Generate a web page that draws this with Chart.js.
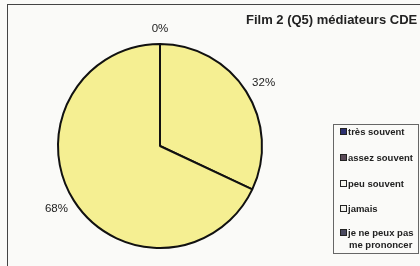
<!DOCTYPE html>
<html lang="fr">
<head>
    <meta charset="UTF-8">
    <title>Film 2 (Q5) médiateurs CDE</title>
    <script src="https://cdn.jsdelivr.net/npm/chart.js"></script>
    <style>
        body {
            margin: 0;
            width: 420px;
            height: 266px;
            overflow: hidden;
            background: #fafaf8;
            font-family: 'Liberation Sans', Arial, sans-serif;
        }
        .frame {
            position: absolute;
            left: 7px;
            top: 4px;
            width: 440px;
            height: 300px;
            border-left: 1.5px solid #444;
            border-top: 1.5px solid #444;
        }
        .chart-wrapper {
            position: absolute;
            left: 0;
            top: 0;
            width: 420px;
            height: 266px;
        }
        .title {
            position: absolute;
            left: 246px;
            top: 12px;
            font-size: 13px;
            font-weight: bold;
            color: #222;
            white-space: nowrap;
        }
        .legend {
            position: absolute;
            left: 333px;
            top: 124px;
            width: 84px;
            height: 128px;
            border: 1px solid #666;
            font-size: 9.5px;
            font-weight: bold;
            color: #222;
        }
        .legend-item {
            position: absolute;
            left: 6px;
            line-height: 12px;
            white-space: nowrap;
        }
        .legend-box {
            display: inline-block;
            width: 5px;
            height: 5px;
            border: 1px solid #222;
            margin-right: 1px;
            vertical-align: 0px;
        }
    </style>
</head>
<body>
    <div class="frame"></div>
    <div class="chart-wrapper">
        <canvas id="pieChart"></canvas>
    </div>
    <div class="title">Film 2 (Q5) médiateurs CDE</div>
    <div class="legend" id="legend"></div>

    <script>
        const categories = ['très souvent', 'assez souvent', 'peu souvent', 'jamais', 'je ne peux pas\nme prononcer'];
        const percentages = [0, 0, 32, 68, 0];
        const sliceColors = ['#f5ef92', '#f5ef92', '#f5ef92', '#f5ef92', '#f5ef92'];
        const legendColors = ['#2c3070', '#5a4a58', '#f6f6f0', '#f2f2ee', '#4a4a60'];

        // legend (HTML, boxed like the original)
        const legendTops = [1, 27, 53, 78, 102];
        const legend = document.getElementById('legend');
        categories.forEach(function(name, i) {
            const item = document.createElement('div');
            item.className = 'legend-item';
            item.style.top = legendTops[i] + 'px';
            const lines = name.split('\n');
            item.innerHTML = '<span class="legend-box" style="background:' + legendColors[i] + '"></span>' +
                lines[0] + (lines[1] ? '<br><span style="padding-left:9px">' + lines[1] + '</span>' : '');
            legend.appendChild(item);
        });

        // percentage labels outside the slices
        const outsideLabels = {
            id: 'outsideLabels',
            afterDatasetsDraw(chart) {
                const ctx = chart.ctx;
                const meta = chart.getDatasetMeta(0);
                const drawn = {};
                ctx.save();
                ctx.font = '11.5px "Liberation Sans", Arial, sans-serif';
                ctx.fillStyle = '#222';
                ctx.textAlign = 'center';
                ctx.textBaseline = 'middle';
                meta.data.forEach(function(arc, i) {
                    const text = percentages[i] + '%';
                    const mid = (arc.startAngle + arc.endAngle) / 2;
                    const dx = Math.cos(mid), dy = Math.sin(mid);
                    const w = ctx.measureText(text).width;
                    const r = arc.outerRadius + 11;
                    const x = arc.x + dx * (r + w / 2 * Math.abs(dx));
                    const y = arc.y + dy * (r + 4);
                    const key = Math.round(x) + ',' + Math.round(y);
                    if (drawn[key]) return;
                    drawn[key] = true;
                    ctx.fillText(text, x, y);
                });
                ctx.restore();
            }
        };

        const ctx = document.getElementById('pieChart').getContext('2d');
        new Chart(ctx, {
            type: 'pie',
            data: {
                labels: categories,
                datasets: [{
                    data: percentages,
                    backgroundColor: sliceColors,
                    borderColor: '#111',
                    borderWidth: 2
                }]
            },
            options: {
                responsive: true,
                maintainAspectRatio: false,
                animation: false,
                layout: {
                    padding: { left: 57, right: 157, top: 43, bottom: 17 }
                },
                plugins: {
                    legend: { display: false },
                    tooltip: { enabled: false }
                }
            },
            plugins: [outsideLabels]
        });
    </script>
</body>
</html>
